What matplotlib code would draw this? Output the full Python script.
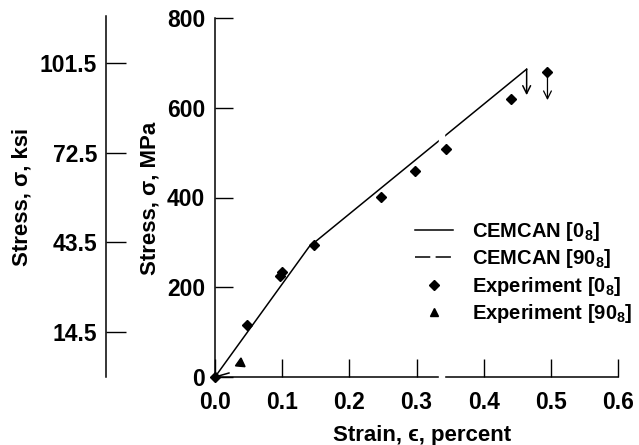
import matplotlib
matplotlib.use("Agg")
import matplotlib.pyplot as plt
from matplotlib.lines import Line2D

plt.rcParams['font.family'] = ['Liberation Sans', 'DejaVu Sans']
plt.rcParams['font.weight'] = 'bold'
plt.rcParams['axes.labelweight'] = 'bold'
plt.rcParams['mathtext.fontset'] = 'custom'
plt.rcParams['mathtext.rm'] = 'Liberation Sans:bold'
plt.rcParams['mathtext.it'] = 'Liberation Sans:bold'
plt.rcParams['mathtext.bf'] = 'Liberation Sans:bold'

# CEMCAN prediction, [0_8]
cemcan0_strain = [0.0, 0.14, 0.464]
cemcan0_stress = [0, 290, 686]
cemcan0_fail = 628          # end of the drop arrow at failure

# CEMCAN prediction, [90_8]
cemcan90_strain = [0.0, 0.028]
cemcan90_stress = [0, 12]

# experiment, [0_8]
exp0_strain = [0.0, 0.048, 0.097, 0.100, 0.148, 0.247, 0.298, 0.344, 0.440, 0.495]
exp0_stress = [0, 116, 225, 235, 294, 401, 460, 508, 619, 679]
exp0_fail = 617

# experiment, [90_8]
exp90_strain = [0.037]
exp90_stress = [31]

mpa_ticks = [0, 200, 400, 600, 800]
strain_ticks = [0.0, 0.1, 0.2, 0.3, 0.4, 0.5, 0.6]
ksi_pos = [100, 300, 500, 700]
ksi_labels = ['14.5', '43.5', '72.5', '101.5']

fig = plt.figure(figsize=(6.39, 4.45), dpi=100)
ax = fig.add_axes([215/639, 1-377/445, 403/639, 359/445])

lw = 1.1
dash = (0, (10, 3.5))
ax.plot(cemcan0_strain, cemcan0_stress, color='black', lw=lw, zorder=2)
ax.annotate('', xy=(cemcan0_strain[-1], cemcan0_fail), xytext=(cemcan0_strain[-1], cemcan0_stress[-1]),
            arrowprops=dict(arrowstyle='->', color='black', lw=lw, mutation_scale=14, shrinkA=0, shrinkB=0))
ax.plot(cemcan90_strain, cemcan90_stress, color='black', lw=lw, ls=dash, zorder=2)
ax.plot(exp0_strain, exp0_stress, ls='none', marker='D', ms=5.5, color='black', zorder=3, clip_on=False)
ax.annotate('', xy=(exp0_strain[-1], exp0_fail), xytext=(exp0_strain[-1], exp0_stress[-1]),
            arrowprops=dict(arrowstyle='->', color='black', lw=0.9, mutation_scale=14, shrinkA=0, shrinkB=0))
ax.plot(exp90_strain, exp90_stress, ls='none', marker=(3, 0, 115), ms=8, color='black', zorder=3)

# scan artifact: thin white stripe breaking the line and axis
ax.axvspan(0.334, 0.341, ymin=-0.01, ymax=0.75, color='white', zorder=2.6, clip_on=False)

ax.set_xlim(0, 0.6)
ax.set_ylim(0, 800)
ax.set_xticks(strain_ticks)
ax.set_xticklabels(['%.1f' % t for t in strain_ticks])
ax.set_yticks(mpa_ticks)
for s in ['top', 'right']:
    ax.spines[s].set_visible(False)
for s in ['left', 'bottom']:
    ax.spines[s].set_linewidth(1.1)
ax.tick_params(axis='both', direction='in', length=13, width=1.0, labelsize=16.5)
ax.tick_params(axis='x', pad=10)
ax.tick_params(axis='y', pad=7)
ax.set_xlabel('Strain, \u03f5, percent', fontsize=16)
ax.xaxis.set_label_coords(0.514, -0.133)
fig.text(150/639, 1-198/445, 'Stress, \u03c3, MPa', rotation=90, ha='center', va='center', fontsize=16)

# second stress axis in ksi
ax2 = fig.add_axes([106/639, 1-377/445, 0.01, 361/445])
ax2.set_ylim(0, 805)
for s in ['top', 'right', 'bottom']:
    ax2.spines[s].set_visible(False)
ax2.spines['left'].set_linewidth(1.1)
ax2.set_xticks([])
ax2.set_yticks(ksi_pos)
ax2.set_yticklabels(ksi_labels)
ax2.tick_params(axis='y', direction='in', length=14.4, width=1.0, labelsize=16.5, pad=6.5)
ax2.patch.set_visible(False)
fig.text(22/639, 1-197/445, 'Stress, \u03c3, ksi', rotation=90, ha='center', va='center', fontsize=16)

handles = [
    Line2D([], [], color='black', lw=lw),
    Line2D([], [], color='black', lw=lw, ls=dash),
    Line2D([], [], ls='none', marker='D', ms=5.5, color='black'),
    Line2D([], [], ls='none', marker='^', ms=6, color='black'),
]
labels = ['CEMCAN [0$_8$]', 'CEMCAN [90$_8$]', 'Experiment [0$_8$]', 'Experiment [90$_8$]']
fig.legend(handles, labels, loc='upper left', bbox_to_anchor=(415/639, 1-220/445),
           frameon=False, fontsize=14.5, handlelength=1.9, handletextpad=0.95,
           labelspacing=0.22, borderpad=0, borderaxespad=0)

fig.savefig('out.png', dpi=100)
